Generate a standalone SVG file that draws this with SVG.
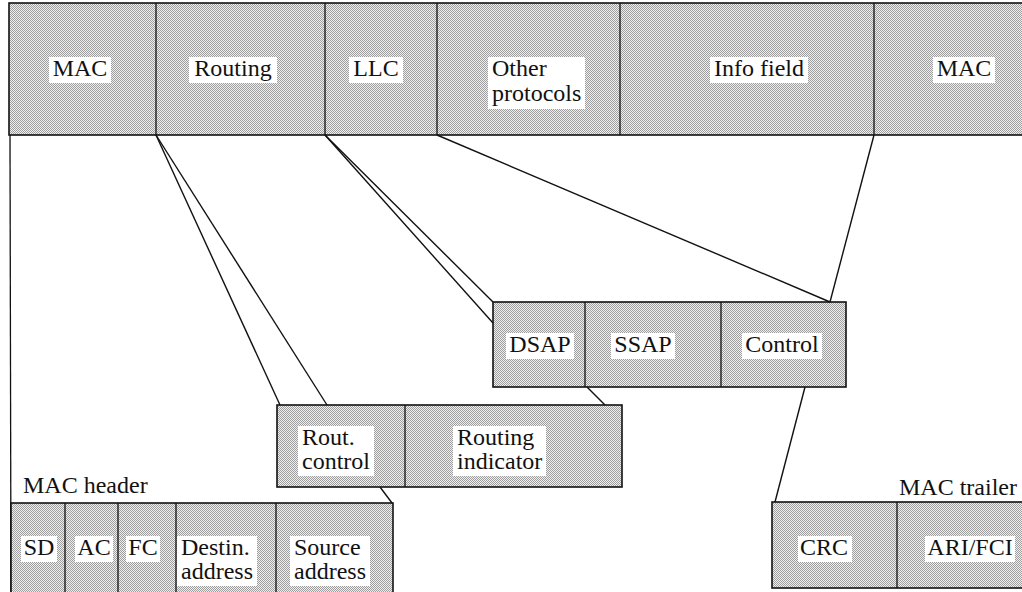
<svg xmlns="http://www.w3.org/2000/svg" width="1022" height="592" viewBox="0 0 1022 592">
  <defs>
    <!-- halftone screen used for all field boxes -->
    <pattern id="screen" width="2" height="2" patternUnits="userSpaceOnUse">
      <rect width="2" height="2" fill="#efefef"/>
      <rect width="1" height="1" fill="#9e9e9e"/>
      <rect x="1" y="1" width="1" height="1" fill="#9e9e9e"/>
    </pattern>
  </defs>
  <style>
    .field { fill: url(#screen); stroke: #111; stroke-width: 1.6; }
    .div { stroke: #111; stroke-width: 1.3; fill: none; }
    .bg { fill: #fff; }
    text { font-family: 'Liberation Serif', 'Times New Roman', serif; font-size: 24px; fill: #111; }
    .c { text-anchor: middle; }
    .link { stroke: #111; stroke-width: 1.4; fill: none; }
  </style>
  <rect width="1022" height="592" fill="#fff"/>

  <!-- frame: top frame bar -->
  <g id="frame">
    <rect class="field" x="9" y="3" width="1030" height="132"/>
    <line class="div" x1="156" y1="3" x2="156" y2="135"/>
    <line class="div" x1="325" y1="3" x2="325" y2="135"/>
    <line class="div" x1="437" y1="3" x2="437" y2="135"/>
    <line class="div" x1="620" y1="3" x2="620" y2="135"/>
    <line class="div" x1="874" y1="3" x2="874" y2="135"/>
    <rect class="bg" x="49" y="57" width="62" height="26"/>
    <text class="c" x="80" y="76">MAC</text>
    <rect class="bg" x="189" y="57" width="88" height="26"/>
    <text class="c" x="233" y="76">Routing</text>
    <rect class="bg" x="349" y="57" width="54" height="26"/>
    <text class="c" x="376" y="76">LLC</text>
    <rect class="bg" x="488" y="57" width="97" height="52"/>
    <text x="492" y="76">Other</text>
    <text x="492" y="101">protocols</text>
    <rect class="bg" x="710" y="57" width="98" height="26"/>
    <text class="c" x="759" y="76">Info field</text>
    <rect class="bg" x="933" y="57" width="62" height="26"/>
    <text class="c" x="964" y="76">MAC</text>
  </g>

  <!-- LLC header: DSAP / SSAP / Control -->
  <g id="llc-header">
    <rect class="field" x="493" y="302" width="353" height="85"/>
    <line class="div" x1="585" y1="302" x2="585" y2="387"/>
    <line class="div" x1="721" y1="302" x2="721" y2="387"/>
    <rect class="bg" x="506" y="333" width="68" height="26"/>
    <text class="c" x="540" y="352">DSAP</text>
    <rect class="bg" x="611" y="333" width="64" height="26"/>
    <text class="c" x="643" y="352">SSAP</text>
    <rect class="bg" x="742" y="333" width="80" height="26"/>
    <text class="c" x="782" y="352">Control</text>
  </g>

  <!-- routing information field -->
  <g id="routing-info">
    <rect class="field" x="277" y="405" width="345" height="82"/>
    <line class="div" x1="405" y1="405" x2="405" y2="487"/>
    <rect class="bg" x="298" y="426" width="76" height="50"/>
    <text x="302" y="445">Rout.</text>
    <text x="302" y="469">control</text>
    <rect class="bg" x="453" y="426" width="93" height="50"/>
    <text x="457" y="445">Routing</text>
    <text x="457" y="469">indicator</text>
  </g>

  <!-- MAC header fields -->
  <g id="mac-header">
    <line class="div" x1="10" y1="135" x2="11" y2="600"/>
    <text x="23" y="493">MAC header</text>
    <rect class="field" x="11" y="503" width="382" height="100"/>
    <line class="div" x1="65" y1="503" x2="65" y2="603"/>
    <line class="div" x1="118" y1="503" x2="118" y2="603"/>
    <line class="div" x1="176" y1="503" x2="176" y2="603"/>
    <line class="div" x1="276" y1="503" x2="276" y2="603"/>
    <rect class="bg" x="21" y="536" width="36" height="26"/>
    <text class="c" x="39" y="555">SD</text>
    <rect class="bg" x="75" y="536" width="38" height="26"/>
    <text class="c" x="94" y="555">AC</text>
    <rect class="bg" x="126" y="536" width="34" height="26"/>
    <text class="c" x="143" y="555">FC</text>
    <rect class="bg" x="177" y="536" width="80" height="50"/>
    <text x="181" y="555">Destin.</text>
    <text x="181" y="579">address</text>
    <rect class="bg" x="290" y="536" width="80" height="50"/>
    <text x="294" y="555">Source</text>
    <text x="294" y="579">address</text>
  </g>

  <!-- MAC trailer fields -->
  <g id="mac-trailer">
    <text x="899" y="495">MAC trailer</text>
    <rect class="field" x="772" y="502" width="270" height="86"/>
    <line class="div" x1="897" y1="502" x2="897" y2="588"/>
    <rect class="bg" x="798" y="536" width="54" height="26"/>
    <text class="c" x="824" y="555">CRC</text>
    <rect class="bg" x="925" y="536" width="90" height="26"/>
    <text class="c" x="970" y="555">ARI/FCI</text>
  </g>

  <!-- expansion lines between levels -->
  <g id="connectors">
    <line class="link" x1="156" y1="135" x2="280" y2="405"/>
    <line class="link" x1="156" y1="135" x2="327" y2="405"/>
    <line class="link" x1="325" y1="135" x2="493" y2="302"/>
    <line class="link" x1="325" y1="135" x2="493" y2="323"/>
    <line class="link" x1="437" y1="135" x2="830" y2="302"/>
    <line class="link" x1="874" y1="135" x2="830" y2="302"/>
    <line class="link" x1="587" y1="387" x2="605" y2="405"/>
    <line class="link" x1="380" y1="487" x2="392" y2="503"/>
    <line class="link" x1="805" y1="387" x2="775" y2="502"/>
  </g>
</svg>
